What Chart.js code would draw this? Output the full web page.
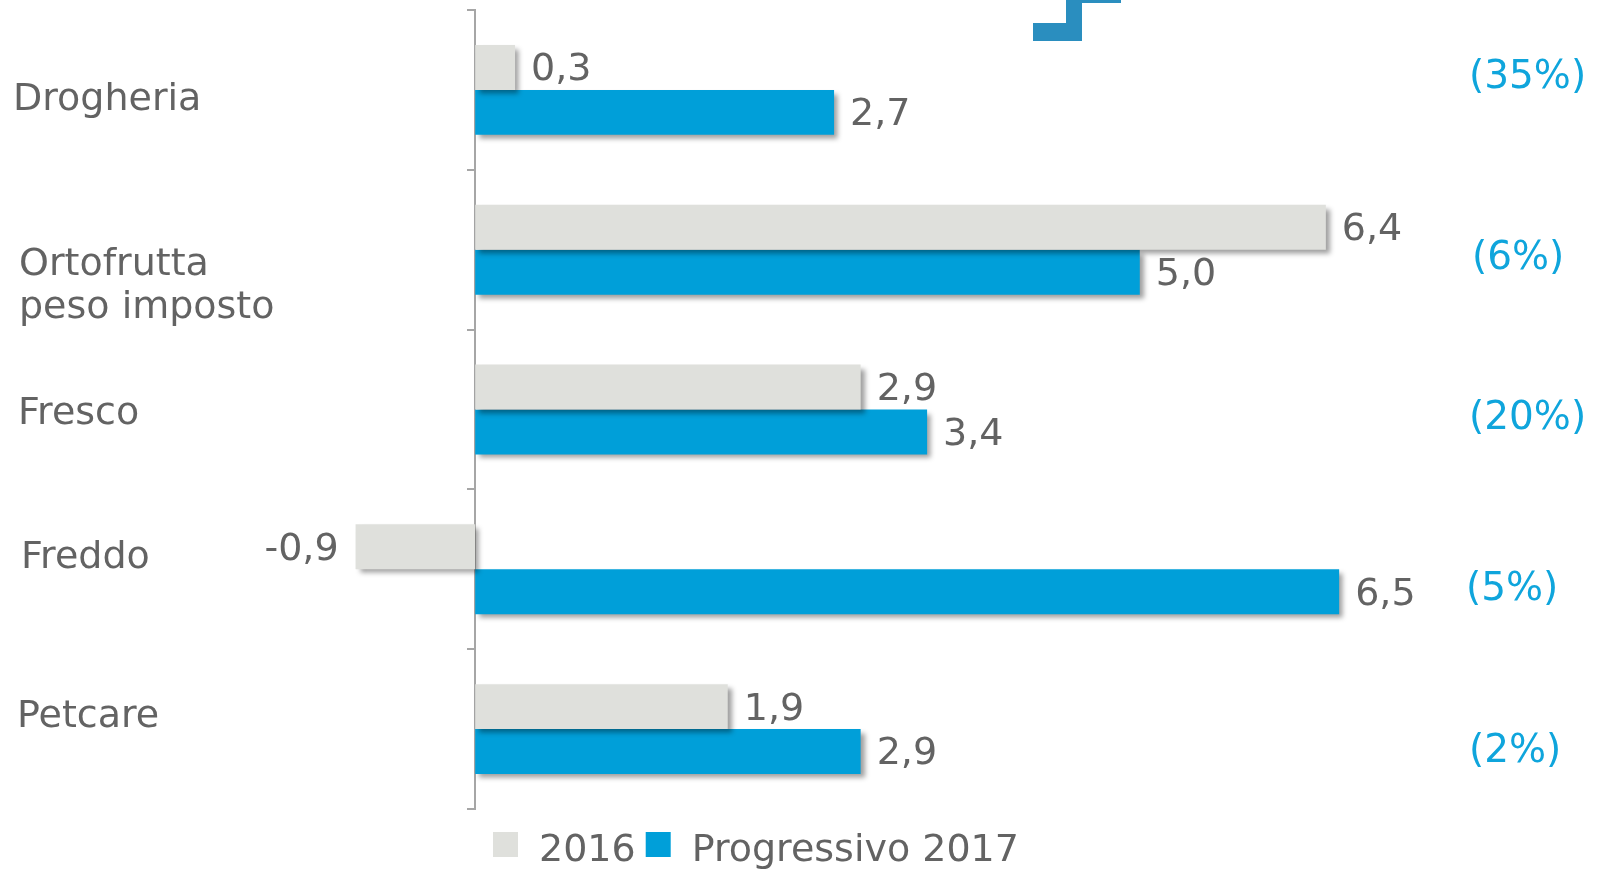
<!DOCTYPE html>
<html>
<head>
<meta charset="utf-8">
<script src="https://cdn.jsdelivr.net/npm/chart.js@4.4.1/dist/chart.umd.min.js"></script>
<style>
  html, body { margin: 0; padding: 0; background: #fff; }
  #wrap { width: 1600px; height: 870px; position: relative; }
</style>
</head>
<body>
<div id="wrap"><canvas id="salesChart"></canvas></div>
<script>
// Data
const categories = ['Drogheria', ['Ortofrutta', 'peso imposto'], 'Fresco', 'Freddo', 'Petcare'];
const values2016 = [0.3, 6.4, 2.9, -0.9, 1.9];
const values2017 = [2.7, 5.0, 3.4, 6.5, 2.9];
const shareLabels = ['(35%)', '(6%)', '(20%)', '(5%)', '(2%)'];
const seriesNames = ['2016', 'Progressivo 2017'];

const FONT = "'DejaVu Sans', Verdana, sans-serif";
const GREY = '#dfe0dc';
const BLUE = '#009fd9';
const TEXT = '#636363';

// the labels in the original slide are not quite centred on their rows
const catNudge = [{ x: 13, y: 6 }, { x: 19, y: 33 }, { x: 18, y: 1 }, { x: 21, y: -15 }, { x: 17, y: -16 }];
const shareNudge = [{ x: 1469, y: -15 }, { x: 1472, y: 6 }, { x: 1469, y: 6 }, { x: 1466, y: 18 }, { x: 1469, y: 20 }];

function fmt(v) {
    return v.toFixed(1).replace('.', ',');
}

// drop shadow under the bars
const barShadow = {
    id: 'barShadow',
    beforeDatasetsDraw(chart) {
        const ctx = chart.ctx;
        ctx.save();
        ctx.shadowColor = 'rgba(0,0,0,0.38)';
        ctx.shadowBlur = 5;
        ctx.shadowOffsetX = 4;
        ctx.shadowOffsetY = 4;
    },
    afterDatasetsDraw(chart) {
        chart.ctx.restore();
    }
};

// value labels, category names, share column, legend and the little step mark at the top
const annotations = {
    id: 'annotations',
    afterDraw(chart) {
        const ctx = chart.ctx;
        const y = chart.scales.y;
        ctx.save();
        ctx.font = '38px ' + FONT;
        ctx.textBaseline = 'middle';

        // values at the end of each bar
        chart.data.datasets.forEach((ds, di) => {
            chart.getDatasetMeta(di).data.forEach((bar, i) => {
                const v = ds.data[i];
                ctx.fillStyle = TEXT;
                if (v >= 0) {
                    ctx.textAlign = 'left';
                    ctx.fillText(fmt(v), bar.x + 16, bar.y + 3);
                } else {
                    ctx.textAlign = 'right';
                    ctx.fillText(fmt(v), bar.x - 17, bar.y + 3);
                }
            });
        });

        // category names on the far left
        ctx.textAlign = 'left';
        ctx.fillStyle = TEXT;
        categories.forEach((c, i) => {
            const lines = Array.isArray(c) ? c : [c];
            const cy = y.getPixelForValue(i) + 4 + catNudge[i].y;
            const lh = 43;
            const top = cy - (lines.length - 1) * lh / 2;
            lines.forEach((l, k) => ctx.fillText(l, catNudge[i].x, top + k * lh));
        });

        // share column on the right
        ctx.font = '39px ' + FONT;
        ctx.fillStyle = '#0fa5dc';
        shareLabels.forEach((s, i) => {
            ctx.fillText(s, shareNudge[i].x, y.getPixelForValue(i) + 3 + shareNudge[i].y);
        });

        // legend under the axis
        ctx.font = '38px ' + FONT;
        let lx = 493;
        chart.data.datasets.forEach((ds) => {
            ctx.fillStyle = ds.backgroundColor;
            ctx.fillRect(lx, 832, 25, 25);
            ctx.fillStyle = TEXT;
            ctx.fillText(ds.label, lx + 46, 851);
            lx += 46 + ctx.measureText(ds.label).width + 10;
        });

        // cropped step mark at the top
        ctx.fillStyle = '#2a8ebf';
        ctx.fillRect(1033, 23, 49, 18);
        ctx.fillRect(1066, 0, 16, 23);
        ctx.fillRect(1082, 0, 39, 3);
        ctx.restore();
    }
};

const ctx = document.getElementById('salesChart').getContext('2d');
new Chart(ctx, {
    type: 'bar',
    data: {
        labels: categories,
        datasets: [{
            label: seriesNames[0],
            data: values2016,
            backgroundColor: GREY,
            borderWidth: 0
        }, {
            label: seriesNames[1],
            data: values2017,
            backgroundColor: BLUE,
            borderWidth: 0
        }]
    },
    options: {
        indexAxis: 'y',
        responsive: true,
        maintainAspectRatio: false,
        animation: false,
        categoryPercentage: 0.5625,
        barPercentage: 1,
        layout: {
            padding: { left: 10, right: 108, top: 10, bottom: 61 }
        },
        scales: {
            x: {
                display: false,
                min: -3.5,
                max: 7.65
            },
            y: {
                position: { x: 0 },
                ticks: { display: false },
                grid: {
                    drawOnChartArea: false,
                    tickLength: 7,
                    color: '#a6a6a6',
                    lineWidth: 2
                },
                border: { color: '#a6a6a6', width: 2 }
            }
        },
        plugins: {
            legend: { display: false },
            tooltip: { enabled: false }
        }
    },
    plugins: [barShadow, annotations]
});
</script>
</body>
</html>
